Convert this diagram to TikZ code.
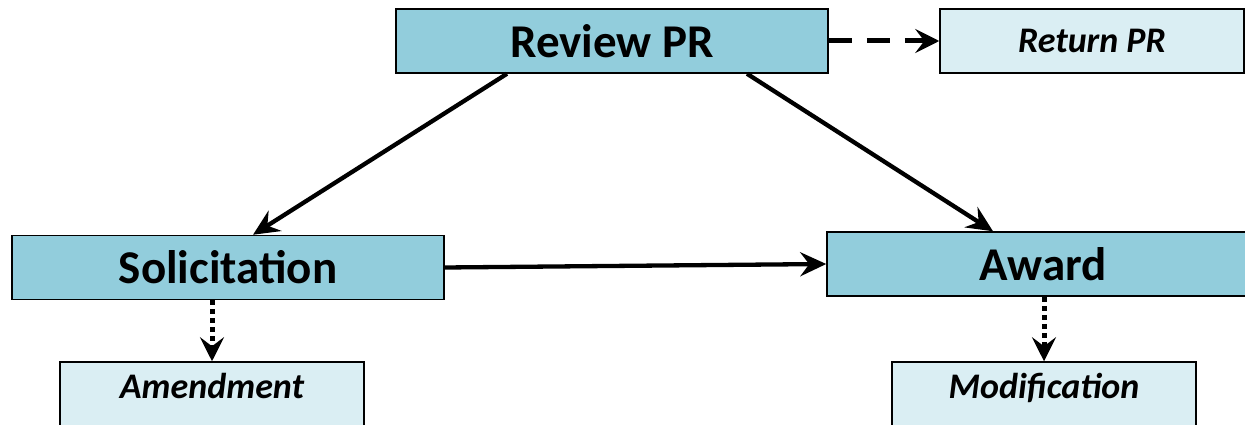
\documentclass[tikz,border=0pt]{standalone}
\usepackage{fontspec}
\setmainfont{Carlito}
\usepackage{tikz}
\usetikzlibrary{positioning}
\usetikzlibrary{arrows.meta}

\definecolor{stageblue}{HTML}{92CDDC}
\definecolor{outblue}{HTML}{DAEEF3}

\begin{document}
\begin{tikzpicture}[x=1pt, y=-1pt]
    \tikzstyle{stage} = [draw=black, line width=1.5pt, fill=stageblue, rectangle, minimum width=432pt, minimum height=64pt, inner sep=0pt, font=\bfseries\fontsize{47}{47}\selectfont];
    \tikzstyle{outcome} = [draw=black, line width=1.5pt, fill=outblue, rectangle, minimum width=304pt, minimum height=64pt, inner sep=0pt, font=\bfseries\itshape\fontsize{36}{36}\selectfont];
    \tikzstyle{pointer} = [line width=4.3pt, -{Stealth[length=26pt, width=24pt, inset=9pt]}];
    \tikzstyle{maybe} = [line width=5pt, dash pattern=on 23pt off 15pt, -{Stealth[length=24pt, width=24pt, inset=9pt]}];
    \tikzstyle{followup} = [line width=5pt, dash pattern=on 5pt off 4pt, -{Stealth[length=24pt, width=24pt, inset=9pt]}];

    \useasboundingbox (0,0) rectangle (1245,425);
    \clip (0,0) rectangle (1245,425);

    \node[stage] (stage-review)  at (612, 41)    {Review PR};
    \node[stage] (stage-solicit) at (228, 267.5) {Solicitation};
    \node[stage] (stage-award)   at (1043, 264)  {Award};

    \node[outcome] (out-return) at (1092, 41) {Return PR};
    \node[outcome, text depth=16pt] (out-amend) at (212, 394)  {Amendment};
    \node[outcome, text depth=16pt] (out-modif) at (1044, 394) {Modification};

    \draw [pointer] ([xshift=-105pt]stage-review.south) -- ([xshift=25pt]stage-solicit.north);
    \draw [pointer] ([xshift=135pt]stage-review.south) -- ([xshift=-50pt]stage-award.north);
    \draw [pointer] (stage-solicit.east) -- (stage-award.west);

    \draw [maybe] (stage-review.east) -- (out-return.west);
    \draw [followup] (stage-solicit.south -| out-amend.north) -- (out-amend.north);
    \draw [followup] (stage-award.south -| out-modif.north) -- (out-modif.north);
\end{tikzpicture}
\end{document}
